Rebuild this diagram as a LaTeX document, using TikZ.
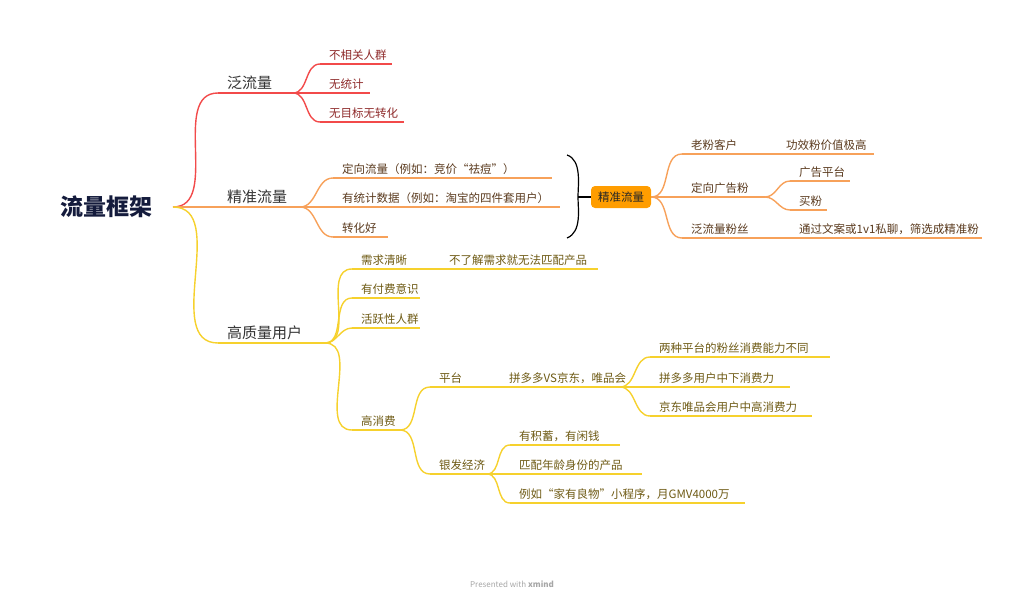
\documentclass[tikz,border=0pt]{standalone}
\usepackage{fontspec}
\setmainfont{Noto Sans CJK SC}
\usetikzlibrary{calc}
\definecolor{RedClr}{HTML}{F24A4A}
\definecolor{RedTxtClr}{HTML}{8E2A2A}
\definecolor{OrangeClr}{HTML}{F7A15A}
\definecolor{BoxClr}{HTML}{FF9D00}
\definecolor{YellowClr}{HTML}{F6D12D}
\definecolor{YellowTxtClr}{HTML}{6E5A14}
\definecolor{OrangeTxtClr}{HTML}{5A3A1E}
\definecolor{MainClr}{HTML}{141B3C}

% topic: name, colour, x-left, y, x-right, text style, text
\newcommand\topic[7]{%
  \coordinate (#1-l) at (#3,#4);
  \coordinate (#1-r) at (#5,#4);
  \draw[line width=1.4pt,#2] (#1-l) -- (#1-r);
  \node[#6,anchor=south west,inner sep=2pt,xshift=7pt,yshift=1pt] (#1) at (#1-l) {#7};}

\begin{document}
\begin{tikzpicture}[x=1pt,y=-1pt,
  branch/.style={line width=1.4pt,out=0,in=180},
  big/.style={font=\fontsize{15}{17}\selectfont,text=black!80},
  red txt/.style={font=\fontsize{11.5}{13}\selectfont,text=RedTxtClr},
  orange txt/.style={font=\fontsize{11.5}{13}\selectfont,text=OrangeTxtClr},
  yellow txt/.style={font=\fontsize{11.5}{13}\selectfont,text=YellowTxtClr}]
\useasboundingbox (0,0) rectangle (1024,605);

\node[font=\fontsize{23}{25}\selectfont\bfseries,text=MainClr] (root) at (106,207) {流量框架};
\coordinate (root-r) at (173,207);

% first level
\topic{fan}{RedClr}{218}{93}{293}{big}{泛流量}
\topic{jing}{OrangeClr}{218}{207}{300}{big}{精准流量}
\topic{gao}{YellowClr}{218}{343}{325}{big}{高质量用户}
\draw[branch,RedClr] (root-r) to (fan-l);
\draw[branch,OrangeClr] (root-r) to (jing-l);
\draw[branch,YellowClr] (root-r) to (gao-l);

% 泛流量
\topic{fa}{RedClr}{320}{64}{392}{red txt}{不相关人群}
\topic{fb}{RedClr}{320}{93}{370}{red txt}{无统计}
\topic{fc}{RedClr}{320}{122}{404}{red txt}{无目标无转化}
\foreach \n in {fa,fb,fc}
  \draw[branch,RedClr] (fan-r) to (\n-l);

% 精准流量
\topic{ja}{OrangeClr}{333}{178}{552}{orange txt}{定向流量（例如：竞价“祛痘”）}
\topic{jb}{OrangeClr}{333}{207}{560}{orange txt}{有统计数据（例如：淘宝的四件套用户）}
\topic{jc}{OrangeClr}{333}{237}{388}{orange txt}{转化好}
\foreach \n in {ja,jb,jc}
  \draw[branch,OrangeClr] (jing-r) to (\n-l);

% brace and summary
\draw[line width=1.2pt] (567,155) .. controls (582,160) and (578,185) .. (578,197)
  .. controls (578,209) and (582,232) .. (567,238);
\node[fill=BoxClr,rounded corners=4pt,minimum width=60pt,minimum height=22pt,
  font=\fontsize{11.5}{13}\selectfont,text=black!85] (sum) at (621,197) {精准流量};
\coordinate (brace-tip) at (578,197);
\draw[line width=1.2pt] (brace-tip) -- (sum.west);

\topic{sa}{OrangeClr}{682}{154}{765}{orange txt}{老粉客户}
\topic{sb}{OrangeClr}{682}{197}{765}{orange txt}{定向广告粉}
\topic{sc}{OrangeClr}{682}{238}{765}{orange txt}{泛流量粉丝}
\foreach \n in {sa,sb,sc}
  \draw[branch,OrangeClr] (sum.east) to (\n-l);
\topic{saa}{OrangeClr}{777}{154}{874}{orange txt}{功效粉价值极高}
\topic{sba}{OrangeClr}{790}{181}{850}{orange txt}{广告平台}
\topic{sbb}{OrangeClr}{790}{210}{827}{orange txt}{买粉}
\topic{sca}{OrangeClr}{790}{238}{982}{orange txt}{通过文案或1v1私聊，筛选成精准粉}
\draw[line width=1.4pt,OrangeClr] (sa-r) -- (saa-l);
\draw[line width=1.4pt,OrangeClr] (sc-r) -- (sca-l);
\foreach \n in {sba,sbb}
  \draw[branch,OrangeClr] (sb-r) to (\n-l);

% 高质量用户
\topic{ga}{YellowClr}{352}{269}{440}{yellow txt}{需求清晰}
\topic{gaa}{YellowClr}{440}{269}{598}{yellow txt}{不了解需求就无法匹配产品}
\topic{gb}{YellowClr}{352}{298}{420}{yellow txt}{有付费意识}
\topic{gc}{YellowClr}{352}{328}{420}{yellow txt}{活跃性人群}
\topic{gd}{YellowClr}{352}{430}{400}{yellow txt}{高消费}
\foreach \n in {ga,gb,gc,gd}
  \draw[branch,YellowClr] (gao-r) to (\n-l);

% 高消费
\topic{pt}{YellowClr}{430}{387}{500}{yellow txt}{平台}
\topic{pta}{YellowClr}{500}{387}{620}{yellow txt}{拼多多VS京东，唯品会}
\topic{yf}{YellowClr}{430}{474}{487}{yellow txt}{银发经济}
\foreach \n in {pt,yf}
  \draw[branch,YellowClr] (gd-r) to (\n-l);

\topic{pa}{YellowClr}{650}{357}{830}{yellow txt}{两种平台的粉丝消费能力不同}
\topic{pb}{YellowClr}{650}{387}{790}{yellow txt}{拼多多用户中下消费力}
\topic{pc}{YellowClr}{650}{416}{812}{yellow txt}{京东唯品会用户中高消费力}
\foreach \n in {pa,pb,pc}
  \draw[branch,YellowClr] (pta-r) to (\n-l);

\topic{ya}{YellowClr}{510}{445}{620}{yellow txt}{有积蓄，有闲钱}
\topic{yb}{YellowClr}{510}{474}{642}{yellow txt}{匹配年龄身份的产品}
\topic{yc}{YellowClr}{510}{503}{745}{yellow txt}{例如“家有良物”小程序，月GMV4000万}
\foreach \n in {ya,yb,yc}
  \draw[branch,YellowClr] (yf-r) to (\n-l);

\node[font=\fontsize{8}{10}\selectfont,text=black!35] (credit) at (512,584)
  {Presented with \textbf{xmind}};
\end{tikzpicture}
\end{document}
